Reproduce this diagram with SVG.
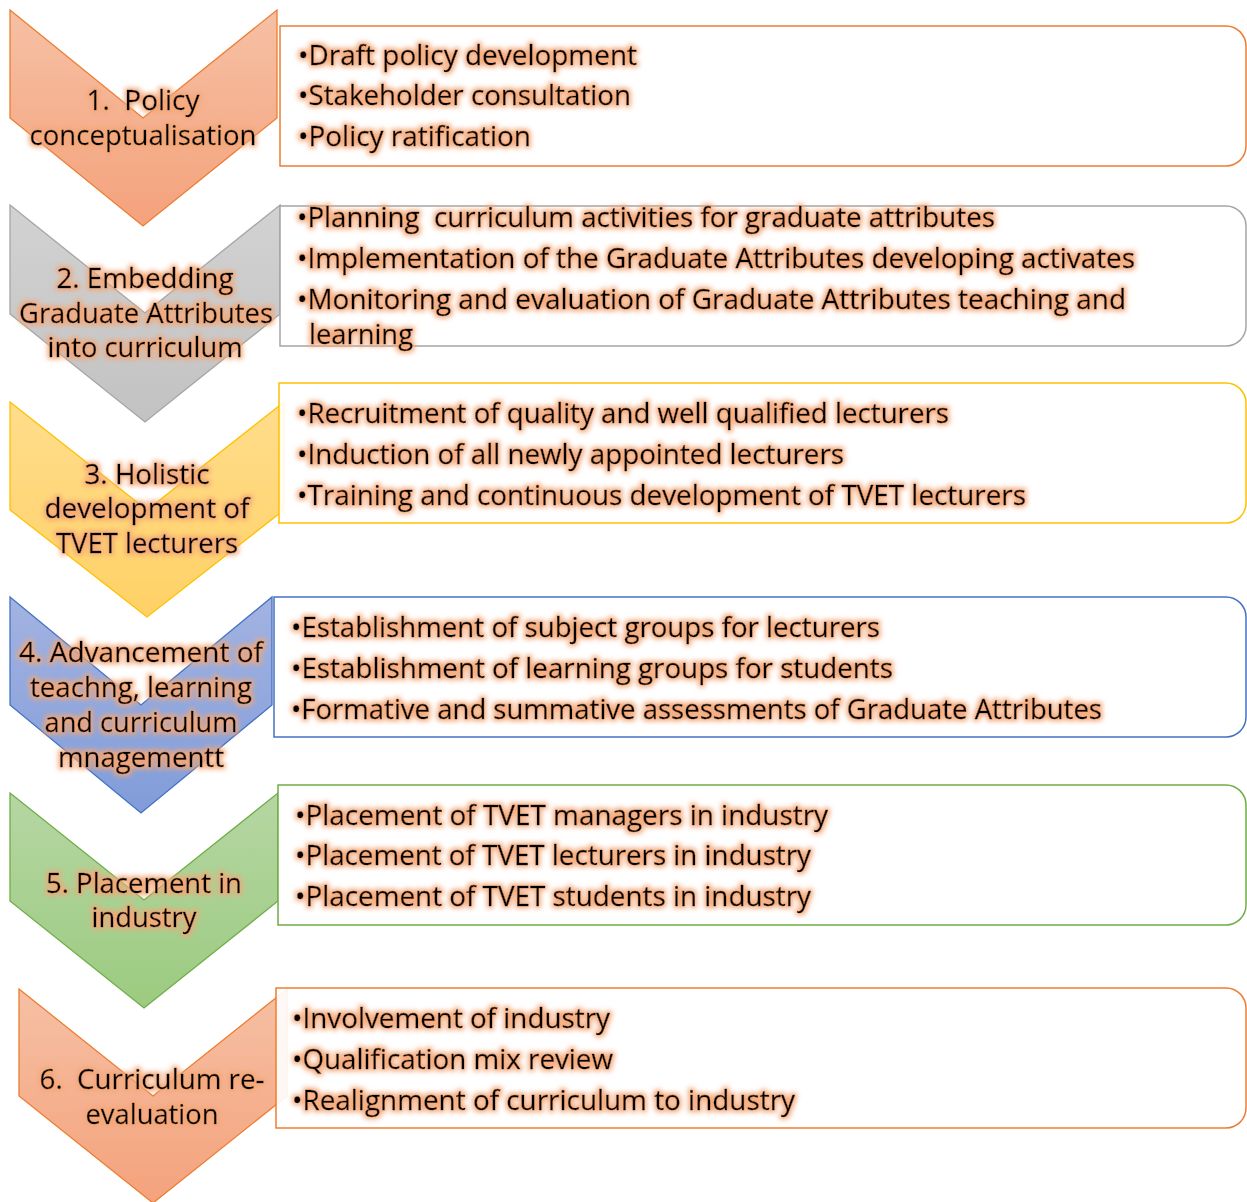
<svg xmlns="http://www.w3.org/2000/svg" width="1247" height="1202" viewBox="0 0 1247 1202">
<style>
text{font-family:"Open Sans","Noto Sans","Liberation Sans",sans-serif;font-size:27px;fill:#000;stroke:#000;stroke-width:0.35;filter:url(#glow)}
.c{text-anchor:middle}
.box{fill:#fff;fill-opacity:0.9;stroke-width:1.5}
.chev{stroke-width:1.3}
</style>
<defs>
<filter id="glow" x="-10%" y="-40%" width="120%" height="180%">
<feMorphology in="SourceAlpha" operator="dilate" radius="2" result="d"/>
<feGaussianBlur in="d" stdDeviation="2.5" result="b"/>
<feFlood flood-color="#F4A675" flood-opacity="0.95"/>
<feComposite in2="b" operator="in" result="g"/>
<feMerge><feMergeNode in="g"/><feMergeNode in="SourceGraphic"/></feMerge>
</filter>
<linearGradient id="gO" x1="0" y1="0" x2="0" y2="1"><stop offset="0" stop-color="#F6C0A4"/><stop offset="1" stop-color="#F4A27C"/></linearGradient>
<linearGradient id="gG" x1="0" y1="0" x2="0" y2="1"><stop offset="0" stop-color="#D2D2D2"/><stop offset="1" stop-color="#C2C2C2"/></linearGradient>
<linearGradient id="gY" x1="0" y1="0" x2="0" y2="1"><stop offset="0" stop-color="#FFDD8C"/><stop offset="1" stop-color="#FFD166"/></linearGradient>
<linearGradient id="gB" x1="0" y1="0" x2="0" y2="1"><stop offset="0" stop-color="#A3B3E1"/><stop offset="1" stop-color="#809CD9"/></linearGradient>
<linearGradient id="gN" x1="0" y1="0" x2="0" y2="1"><stop offset="0" stop-color="#B6D6A3"/><stop offset="1" stop-color="#9BCB80"/></linearGradient>
</defs>
<g id="connectors"/>
<g id="step1">
<path class="chev" fill="url(#gO)" stroke="#ED7D31" d="M10,10 L143,118 L277,10 L277,118 L143,226 L10,118 Z"/>
<path class="box" stroke="#ED7D31" d="M280,26 H1226 A20,20 0 0 1 1246,46 V146 A20,20 0 0 1 1226,166 H280 Z"/>
<text class="c" x="143" y="110" textLength="113" lengthAdjust="spacingAndGlyphs" xml:space="preserve">1.  Policy</text>
<text class="c" x="143" y="145" textLength="227" lengthAdjust="spacingAndGlyphs">conceptualisation</text>
<text x="298" y="65" textLength="339" lengthAdjust="spacingAndGlyphs">•Draft policy development</text>
<text x="298" y="105" textLength="333" lengthAdjust="spacingAndGlyphs">•Stakeholder consultation</text>
<text x="298" y="146" textLength="233" lengthAdjust="spacingAndGlyphs">•Policy ratification</text>
</g>
<g id="step2">
<path class="chev" fill="url(#gG)" stroke="#A5A5A5" d="M10,205 L145,313 L280,205 L280,314 L145,422 L10,314 Z"/>
<path class="box" stroke="#A5A5A5" d="M280,206 H1226 A20,20 0 0 1 1246,226 V326 A20,20 0 0 1 1226,346 H280 Z"/>
<text class="c" x="145" y="288" textLength="177" lengthAdjust="spacingAndGlyphs">2. Embedding</text>
<text class="c" x="146" y="323" textLength="254" lengthAdjust="spacingAndGlyphs">Graduate Attributes</text>
<text class="c" x="145" y="357" textLength="195" lengthAdjust="spacingAndGlyphs">into curriculum</text>
<text x="297" y="227" textLength="698" lengthAdjust="spacingAndGlyphs" xml:space="preserve">•Planning  curriculum activities for graduate attributes</text>
<text x="297" y="268" textLength="838" lengthAdjust="spacingAndGlyphs">•Implementation of the Graduate Attributes developing activates</text>
<text x="297" y="309" textLength="829" lengthAdjust="spacingAndGlyphs">•Monitoring and evaluation of Graduate Attributes teaching and</text>
<text x="309" y="344" textLength="104" lengthAdjust="spacingAndGlyphs">learning</text>
</g>
<g id="step3">
<path class="chev" fill="url(#gY)" stroke="#FFC000" d="M10,402 L147,510 L284,402 L284,510 L147,617 L10,510 Z"/>
<path class="box" stroke="#FFC000" d="M279,383 H1226 A20,20 0 0 1 1246,403 V503 A20,20 0 0 1 1226,523 H279 Z"/>
<text class="c" x="147" y="484" textLength="125" lengthAdjust="spacingAndGlyphs">3. Holistic</text>
<text class="c" x="147" y="518" textLength="205" lengthAdjust="spacingAndGlyphs">development of</text>
<text class="c" x="147" y="553" textLength="182" lengthAdjust="spacingAndGlyphs">TVET lecturers</text>
<text x="297" y="423" textLength="652" lengthAdjust="spacingAndGlyphs">•Recruitment of quality and well qualified lecturers</text>
<text x="297" y="464" textLength="547" lengthAdjust="spacingAndGlyphs">•Induction of all newly appointed lecturers</text>
<text x="297" y="505" textLength="729" lengthAdjust="spacingAndGlyphs">•Training and continuous development of TVET lecturers</text>
</g>
<g id="step4">
<path class="chev" fill="url(#gB)" stroke="#4472C4" d="M10,597 L141,705 L272,597 L272,705 L141,813 L10,705 Z"/>
<path class="box" stroke="#4472C4" d="M274,597 H1226 A20,20 0 0 1 1246,617 V717 A20,20 0 0 1 1226,737 H274 Z"/>
<text class="c" x="141" y="662" textLength="244" lengthAdjust="spacingAndGlyphs">4. Advancement of</text>
<text class="c" x="141" y="697" textLength="222" lengthAdjust="spacingAndGlyphs">teachng, learning</text>
<text class="c" x="141" y="732" textLength="193" lengthAdjust="spacingAndGlyphs">and curriculum</text>
<text class="c" x="141" y="767" textLength="166" lengthAdjust="spacingAndGlyphs">mnagementt</text>
<text x="291" y="637" textLength="589" lengthAdjust="spacingAndGlyphs">•Establishment of subject groups for lecturers</text>
<text x="291" y="678" textLength="602" lengthAdjust="spacingAndGlyphs">•Establishment of learning groups for students</text>
<text x="291" y="719" textLength="811" lengthAdjust="spacingAndGlyphs">•Formative and summative assessments of Graduate Attributes</text>
</g>
<g id="step5">
<path class="chev" fill="url(#gN)" stroke="#70AD47" d="M10,793 L144,900 L278,793 L278,901 L144,1008 L10,901 Z"/>
<path class="box" stroke="#70AD47" d="M278,785 H1226 A20,20 0 0 1 1246,805 V905 A20,20 0 0 1 1226,925 H278 Z"/>
<text class="c" x="144" y="893" textLength="196" lengthAdjust="spacingAndGlyphs">5. Placement in</text>
<text class="c" x="144" y="927" textLength="105" lengthAdjust="spacingAndGlyphs">industry</text>
<text x="295" y="825" textLength="533" lengthAdjust="spacingAndGlyphs">•Placement of TVET managers in industry</text>
<text x="295" y="865" textLength="516" lengthAdjust="spacingAndGlyphs">•Placement of TVET lecturers in industry</text>
<text x="295" y="906" textLength="516" lengthAdjust="spacingAndGlyphs">•Placement of TVET students in industry</text>
</g>
<g id="step6">
<path class="chev" fill="url(#gO)" stroke="#ED7D31" d="M19,989 L153,1096 L287,989 L287,1096 L153,1203 L19,1096 Z"/>
<path class="box" stroke="#ED7D31" d="M276,988 H1226 A20,20 0 0 1 1246,1008 V1108 A20,20 0 0 1 1226,1128 H276 Z"/>
<text class="c" x="152" y="1089" textLength="225" lengthAdjust="spacingAndGlyphs" xml:space="preserve">6.  Curriculum re-</text>
<text class="c" x="152" y="1124" textLength="133" lengthAdjust="spacingAndGlyphs">evaluation</text>
<text x="292" y="1028" textLength="318" lengthAdjust="spacingAndGlyphs">•Involvement of industry</text>
<text x="292" y="1069" textLength="321" lengthAdjust="spacingAndGlyphs">•Qualification mix review</text>
<text x="292" y="1110" textLength="503" lengthAdjust="spacingAndGlyphs">•Realignment of curriculum to industry</text>
</g>
</svg>
